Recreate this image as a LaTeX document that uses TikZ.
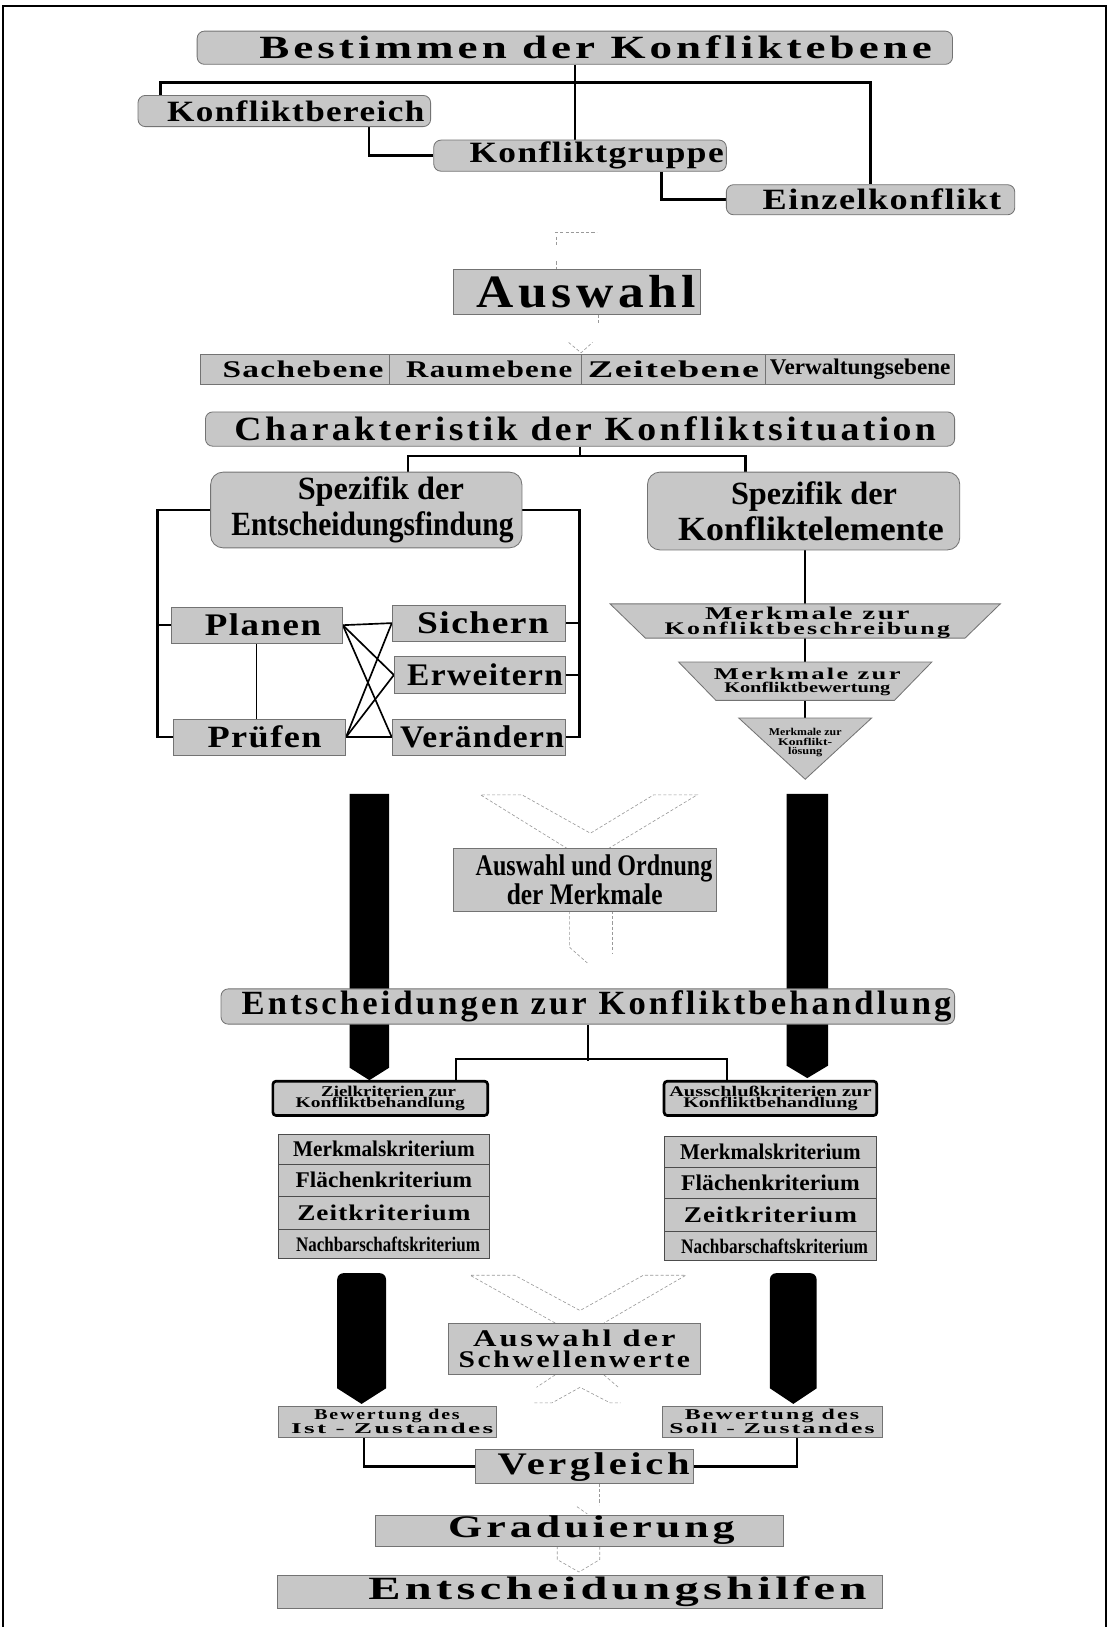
\documentclass[tikz,border=0pt]{standalone}
\usepackage{fontspec}
\setmainfont{Liberation Serif}
\newfontfamily\wideface[LetterSpace=9]{Liberation Serif}
\newfontfamily\midface[LetterSpace=4]{Liberation Serif}
\pgfdeclarelayer{bg}
\pgfsetlayers{bg,main}
% text scaled to a given width and ascender height
\newcommand{\sized}[3]{\resizebox{#1pt}{#2pt}{\bfseries #3}}
% two or three centred lines with explicit gaps
\newcommand{\stacktwo}[3]{\vbox{\offinterlineskip\halign{\hfil##\hfil\cr#1\cr\noalign{\kern#3pt}#2\cr}}}
\newcommand{\stackthree}[5]{\vbox{\offinterlineskip\halign{\hfil##\hfil\cr#1\cr\noalign{\kern#4pt}#2\cr\noalign{\kern#5pt}#3\cr}}}
\tikzset{
  span/.style args={#1/#2/#3/#4}{at={({(#1+#3)/2},{(#2+#4)/2})},
    minimum width={(#3-#1)*1pt}, minimum height={(#4-#2)*1pt}},
  rbox/.style={draw=black!55, line width=0.8pt, fill=black!22, rounded corners=7pt, inner sep=0pt},
  sbox/.style={draw=black!55, line width=0.8pt, fill=black!22, inner sep=0pt},
  cbox/.style={draw=black!70, line width=0.7pt, fill=black!22, inner sep=0pt},
  kbox/.style={draw=black, line width=2.6pt, fill=black!22, rounded corners=3pt, inner sep=0pt},
  funnel/.style={draw=black!55, line width=0.8pt, fill=black!22},
  link/.style={draw=black, line width=2.4pt},
  thinlink/.style={draw=black, line width=1.2pt},
  cross/.style={draw=black, line width=1.6pt},
  ghost/.style={draw=black!40, dash pattern=on 3pt off 2pt, line width=0.6pt},
  blockarrow/.style={fill=black},
  plain/.style={inner sep=0pt}
}
\begin{document}
\begin{tikzpicture}[x=1pt,y=-1pt]
\useasboundingbox (0,0) rectangle (1071,1568);
% outer frame
\draw[line width=1.6pt] (3,1568) -- (3,6) -- (1066,6) -- (1066,1568);

% ---- conflict level ----
\node[rbox, span=190/30/918/62] (bestimmen) {\hspace*{40pt}\sized{648}{22}{\wideface Bestimmen der Konfliktebene}};
\node[rbox, span=133/92/415/122] (bereich) {\hspace*{22pt}\sized{248}{20}{\midface Konfliktbereich}};
\node[rbox, span=418/135/700/165] (gruppe) {\hspace*{32pt}\sized{245}{20}{\midface Konfliktgruppe}};
\node[rbox, span=700/178/978/207] (einzel) {\hspace*{22pt}\sized{230}{20}{\midface Einzelkonflikt}};

\node[sbox, span=437/260/675/303] (auswahl) {\hspace*{18pt}\sized{212}{31}{\wideface Auswahl}};

\node[sbox, span=193/342/375/370] (sache) {\hspace*{16pt}\sized{155}{16}{\midface Sachebene}};
\node[sbox, span=375/342/560/370] (raum) {\hspace*{8pt}\sized{160}{16}{\midface Raumebene}};
\node[sbox, span=560/342/738/370] (zeit) {\sized{165}{16}{\midface Zeitebene}};
\node[sbox, span=738/342/920/370] (verw) {\sized{174}{15}{Verwaltungsebene}};

\node[rbox, span=198/397/920/430] (charak) {\hspace*{10pt}\sized{676}{23}{\wideface Charakteristik der Konfliktsituation}};

% ---- decision finding ----
\node[rbox, rounded corners=12pt, span=203/455/503/528] (spezE) {\stacktwo{\hspace*{28pt}\sized{160}{22}{Spezifik der}}{\hspace*{12pt}\sized{272}{23}{Entscheidungsfindung}}{5}};
\node[rbox, rounded corners=12pt, span=624/455/925/530] (spezK) {\stacktwo{\hspace*{20pt}\sized{160}{22}{Spezifik der}}{\hspace*{14pt}\sized{256}{23}{Konfliktelemente}}{5}};

\node[sbox, span=165/585/330/620] (planen) {\hspace*{12pt}\sized{112}{21}{\midface Planen}};
\node[sbox, span=378/583/545/618] (sichern) {\hspace*{8pt}\sized{127}{21}{\midface Sichern}};
\node[sbox, span=380/633/545/668] (erweitern) {\hspace*{10pt}\sized{150}{21}{\midface Erweitern}};
\node[sbox, span=167/693/333/728] (pruefen) {\hspace*{10pt}\sized{110}{21}{\midface Prüfen}};
\node[sbox, span=378/693/545/728] (veraendern) {\hspace*{6pt}\sized{158}{21}{\midface Verändern}};

% ---- feature funnel ----
\filldraw[funnel] (588,582) -- (964,582) -- (930,615) -- (622,615) -- cycle;
\filldraw[funnel] (654,638) -- (898,638) -- (862,675) -- (690,675) -- cycle;
\filldraw[funnel] (712,692) -- (840,692) -- (776,751) -- cycle;
\coordinate (f1top) at (776,582);
\coordinate (f1bot) at (776,615);
\coordinate (f2top) at (776,638);
\coordinate (f2bot) at (776,675);
\coordinate (f3top) at (776,692);
\node[plain] (mk1) at (778,600) {\stacktwo{\sized{197}{12}{\wideface Merkmale zur}}{\sized{275}{12}{\wideface Konfliktbeschreibung}}{2}};
\node[plain] (mk2) at (778,657) {\stacktwo{\sized{180}{11}{\wideface Merkmale zur}}{\sized{160}{10}{Konfliktbewertung}}{2}};
\node[plain] (mk3) at (776,716) {\stackthree{\sized{70}{7}{Merkmale zur}}{\sized{52}{7}{Konflikt-}}{\sized{33}{7}{lösung}}{2}{2}};

\node[sbox, span=437/818/690/878] (ordnung) {\stacktwo{\hspace*{18pt}\sized{228}{20}{Auswahl und Ordnung}}{\sized{150}{20}{der Merkmale}}{1}};

% ---- treatment decisions ----
\begin{pgfonlayer}{bg}
\fill[blockarrow] (337,765) -- (375,765) -- (375,1029) -- (356,1041) -- (337,1029) -- cycle;
\fill[blockarrow] (758,765) -- (798,765) -- (798,1027) -- (778,1039) -- (758,1027) -- cycle;
\fill[blockarrow] (325,1338) [rounded corners=6pt] -- (325,1227) -- (372,1227) [sharp corners] -- (372,1338) -- (348.5,1353) -- cycle;
\fill[blockarrow] (742,1338) [rounded corners=6pt] -- (742,1227) -- (787,1227) [sharp corners] -- (787,1338) -- (764.5,1353) -- cycle;
\end{pgfonlayer}

\node[rbox, span=213/953/920/987] (entsch) {\hspace*{17pt}\sized{684}{23}{\wideface Entscheidungen zur Konfliktbehandlung}};

\node[kbox, span=263/1042/470/1075] (ziel) {\stacktwo{\hspace*{16pt}\sized{130}{10}{Zielkriterien zur}}{\sized{163}{10}{Konfliktbehandlung}}{1}};
\node[kbox, span=640/1042/845/1075] (aus) {\stacktwo{\sized{195}{10}{Ausschlußkriterien zur}}{\sized{168}{10}{Konfliktbehandlung}}{1}};

\node[cbox, span=268/1093/472/1122] (kl1) {\sized{175}{15}{Merkmalskriterium}};
\node[cbox, span=268/1122/472/1153] (kl2) {\sized{170}{15}{Flächenkriterium}};
\node[cbox, span=268/1153/472/1185] (kl3) {\sized{167}{15}{\midface Zeitkriterium}};
\node[cbox, span=268/1185/472/1213] (kl4) {\hspace*{8pt}\sized{177}{14}{Nachbarschaftskriterium}};
\node[cbox, span=640/1095/845/1125] (kr1) {\sized{174}{15}{Merkmalskriterium}};
\node[cbox, span=640/1125/845/1155] (kr2) {\sized{172}{15}{Flächenkriterium}};
\node[cbox, span=640/1155/845/1187] (kr3) {\sized{167}{15}{\midface Zeitkriterium}};
\node[cbox, span=640/1187/845/1215] (kr4) {\hspace*{8pt}\sized{180}{14}{Nachbarschaftskriterium}};

% ---- thresholds and evaluation ----
\node[sbox, span=432/1275/675/1325] (schwellen) {\stacktwo{\sized{195}{16}{\wideface Auswahl der}}{\sized{223}{16}{\wideface Schwellenwerte}}{4}};
\node[sbox, span=268/1355/478/1385] (ist) {\stacktwo{\sized{140}{10}{\wideface Bewertung des}}{\hspace*{10pt}\sized{195}{10}{\wideface Ist - Zustandes}}{0}};
\node[sbox, span=638/1355/850/1385] (soll) {\stacktwo{\sized{168}{10}{\wideface Bewertung des}}{\sized{198}{10}{\wideface Soll - Zustandes}}{0}};
\node[sbox, span=458/1397/668/1430] (vergleich) {\hspace*{18pt}\sized{185}{21}{\wideface Vergleich}};
\node[sbox, span=362/1460/755/1490] (grad) {\hspace*{23pt}\sized{276}{21}{\wideface Graduierung}};
\node[sbox, span=267/1518/850/1550] (hilfen) {\hspace*{73pt}\sized{480}{22}{\wideface Entscheidungshilfen}};

% ---- connectors ----
\begin{pgfonlayer}{bg}
\draw[link] ([xshift=22pt]bereich.north west) -- ++(0,-12) -| (einzel.north);
\draw[link] (bestimmen.south) -- (bestimmen.south |- gruppe.north);
\draw[link] ([xshift=-60pt]bereich.south east) |- (gruppe.west);
\draw[link] ([xshift=-63pt]gruppe.south east) |- (einzel.west);

\draw[link] (charak.south) -- ++(0,10);
\draw[link] ([xshift=40pt]spezE.north) -- ++(0,-15) -| ([xshift=-56pt]spezK.north);

\draw[link] (spezE.west) -- ++(-51,0) |- (pruefen.west);
\draw[link] (planen.west) -- ++(-13,0);
\draw[link] (spezE.east) -- ++(55,0) |- (veraendern.east);
\draw[link] (sichern.east) -- ++(13,0);
\draw[link] (erweitern.east) -- ++(13,0);
\draw[thinlink] (planen.south) -- (planen.south |- pruefen.north);
\draw[cross] (planen.east) -- (sichern.west);
\draw[cross] (planen.east) -- (erweitern.west);
\draw[cross] (planen.east) -- (veraendern.west);
\draw[cross] (pruefen.east) -- (veraendern.west);
\draw[cross] (pruefen.east) -- (erweitern.west);
\draw[cross] (pruefen.east) -- (sichern.west);

\draw[link] (spezK.south -| f1top) -- (f1top);
\draw[link] (f1bot) -- (f2top);
\draw[link] (f2bot) -- (f3top);

\draw[link] (entsch.south) -- ++(0,35);
\draw[link] ([xshift=73pt]ziel.north) -- ++(0,-20) -| ([xshift=-42pt]aus.north);

\draw[link] ([xshift=-22pt]ist.south) |- (vergleich.west);
\draw[link] ([xshift=24pt]soll.south) |- (vergleich.east);

% faint outline arrows
\draw[ghost] (535,224) -- (575,224);
\draw[ghost] (536,228) -- (536,236);
\draw[ghost] (536,252) -- (536,259);
\draw[ghost] (auswahl.south -| 577,0) -- (577,312);
\draw[ghost] (548,330) -- (560,340) -- (571,330);
\draw[ghost] (547,818) -- (463,766) -- (503,766) -- (569,803) -- (630,766) -- (672,766) -- (586,818);
\draw[ghost] (549,878) -- (549,913) -- (566,928);
\draw[ghost] (590,878) -- (590,919);
\draw[ghost] (535,1275) -- (453,1229) -- (496,1229) -- (559,1263) -- (620,1229) -- (661,1229) -- (582,1275);
\draw[ghost] (535,1325) -- (517,1337);
\draw[ghost] (582,1325) -- (596,1337);
\draw[ghost] (515,1352) -- (532,1352) -- (559,1337) -- (588,1352) -- (598,1352);
\draw[ghost] (578,1430) -- (578,1450);
\draw[ghost] (556,1452) -- (566,1459);
\draw[ghost] (537,1490) -- (537,1503) -- (558,1515) -- (578,1503) -- (578,1490);
\end{pgfonlayer}
\end{tikzpicture}
\end{document}
